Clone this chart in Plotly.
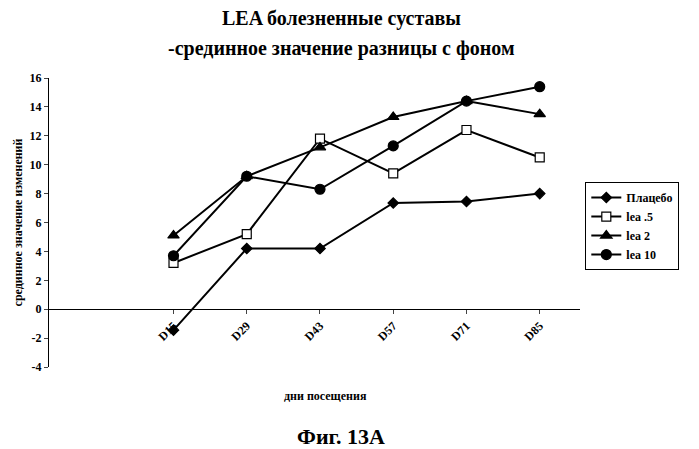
import plotly.graph_objects as go

cats = ["D15", "D29", "D43", "D57", "D71", "D85"]
placebo = [-1.45, 4.2, 4.2, 7.35, 7.45, 8.0]
lea05 = [3.2, 5.2, 11.8, 9.4, 12.4, 10.5]
lea2 = [5.1, 9.2, 11.2, 13.3, 14.4, 13.5]
lea10 = [3.7, 9.2, 8.3, 11.3, 14.4, 15.4]
yticks = list(range(-4, 17, 2))

series = [("<b>Плацебо</b>", placebo, "diamond", "black", 8),
          ("<b>lea .5</b>", lea05, "square", "white", 9),
          ("<b>lea 2</b>", lea2, "triangle-up", "black", 10),
          ("<b>lea 10</b>", lea10, "circle", "black", 10)]

fig = go.Figure()
for name, ys, sym, fill, sz in series:
    fig.add_trace(go.Scatter(x=list(range(len(cats))), y=ys, name=name, mode="lines+markers",
                             line=dict(color="black", width=2),
                             marker=dict(symbol=sym, size=sz, color=fill, line=dict(color="black", width=1.2))))

F = "Liberation Serif"
fig.update_layout(
    width=691, height=441, paper_bgcolor="white", plot_bgcolor="white",
    margin=dict(l=41, r=119, t=70, b=82, autoexpand=False),
    font=dict(family=F, size=12, color="black"),
    showlegend=True,
    legend=dict(x=1.01, y=0.64, xanchor="left", yanchor="top", bordercolor="black", borderwidth=1,
                font=dict(size=12, family=F), bgcolor="white", tracegroupgap=2),
    xaxis=dict(range=[-1.7, 5.55], tickvals=list(range(len(cats))), ticktext=["<b>%s</b>" % c for c in cats],
               tickangle=-45, anchor="free", position=0.2, showline=True, linecolor="black",
               ticks="outside", ticklen=4, showgrid=False, zeroline=False, tickfont=dict(size=12),
               automargin=False),
    yaxis=dict(range=[-4, 16], tickvals=yticks, ticktext=["<b>%d</b>" % v for v in yticks],
               showline=True, linecolor="black", ticks="outside", ticklen=4, showgrid=False,
               zeroline=False, tickfont=dict(size=12), domain=[0, 1], automargin=False,
               title=dict(text="<b>срединное значение изменений</b>", font=dict(size=12), standoff=4)),
)
fig.add_annotation(text="<b>LEA болезненные суставы</b>", x=0.55, y=1.252, xref="paper", yref="paper",
                   showarrow=False, font=dict(size=20, family=F))
fig.add_annotation(text="<b>-срединное значение разницы с фоном</b>", x=0.55, y=1.15, xref="paper",
                   yref="paper", showarrow=False, font=dict(size=20, family=F))
fig.add_annotation(text="<b>дни посещения</b>", x=0.52, y=-0.13, xref="paper", yref="paper",
                   showarrow=False, font=dict(size=12, family=F))
fig.add_annotation(text="<b>Фиг. 13A</b>", x=0.55, y=-0.29, xref="paper", yref="paper",
                   showarrow=False, font=dict(size=22, family=F))
fig.write_html("out.html")
